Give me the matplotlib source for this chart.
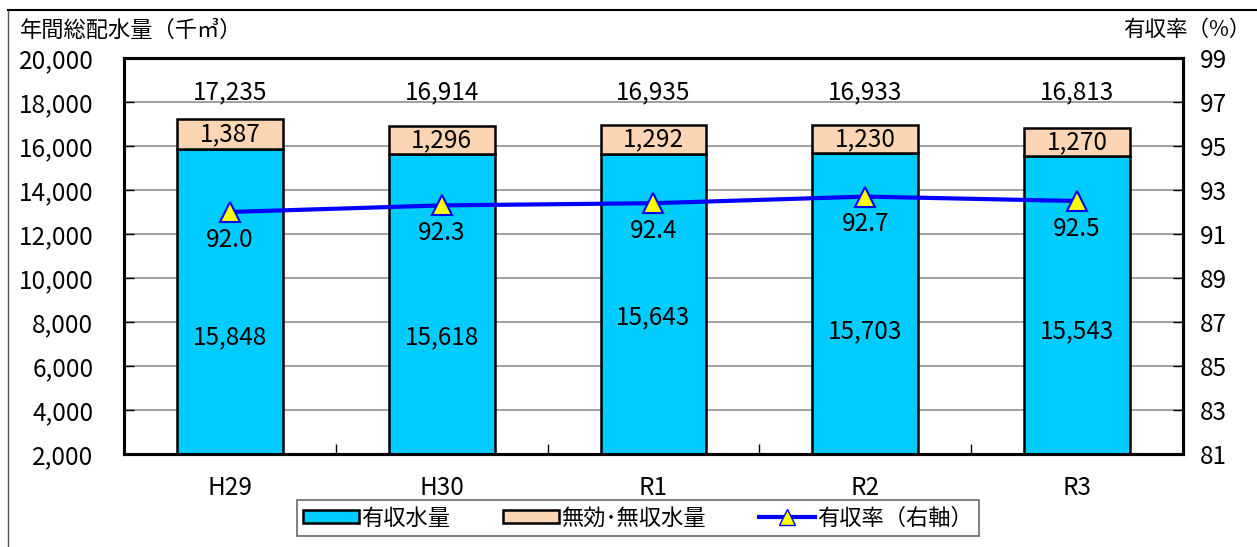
import matplotlib
matplotlib.use('Agg')
from matplotlib import pyplot as plt
from matplotlib.lines import Line2D
from matplotlib.patches import Patch

plt.rcParams['font.family'] = ['Noto Sans CJK JP', 'DejaVu Sans']

# 年度ごとの配水量(千㎥)と有収率(%)
nendo = ['H29', 'H30', 'R1', 'R2', 'R3']
yushu = [15848, 15618, 15643, 15703, 15543]
mukou = [1387, 1296, 1292, 1230, 1270]
goukei = [17235, 16914, 16935, 16933, 16813]
ritsu = [92.0, 92.3, 92.4, 92.7, 92.5]

# 有収水量ラベルの高さ(左軸の値)
yushu_label_y = [7300, 7300, 8200, 7600, 7600]

AO = '#00CCFF'
DAIDAI = '#FCD5B4'
SEN = '#0000FF'
FS = 17.5

fig = plt.figure(figsize=(12.57, 5.47), dpi=100)
ax = fig.add_axes([124/1257, 93/547, 1059/1257, 396/547])
ax2 = ax.twinx()

x = list(range(len(nendo)))
ax.bar(x, yushu, width=0.5, bottom=0, color=AO, edgecolor='black', linewidth=1.8, zorder=3)
ax.bar(x, mukou, width=0.5, bottom=yushu, color=DAIDAI, edgecolor='black', linewidth=1.8, zorder=3)

for i in x:
    ax.text(i, goukei[i] - mukou[i] / 2, f'{mukou[i]:,}', ha='center', va='center', fontsize=FS, zorder=4)
    ax.text(i, 18450, f'{goukei[i]:,}', ha='center', va='center', fontsize=FS, zorder=4)
    ax.text(i, yushu_label_y[i], f'{yushu[i]:,}', ha='center', va='center', fontsize=FS, zorder=4)

ax.set_xlim(-0.5, len(nendo) - 0.5)
ax.set_ylim(2000, 20000)
ax.set_yticks(range(2000, 20001, 2000))
ax.set_yticklabels([f'{v:,}' for v in range(2000, 20001, 2000)])
ax.grid(axis='y', color='#999999', linewidth=1.3, zorder=0)
ax.set_axisbelow(True)
ax.set_xticks(x)
ax.set_xticklabels(nendo)
ax.set_xticks([i + 0.5 for i in x[:-1]], minor=True)
ax.tick_params(axis='x', which='major', length=0, pad=15, labelsize=FS)
ax.tick_params(axis='x', which='minor', direction='in', length=7, width=1)
ax.tick_params(axis='y', direction='in', length=7, width=1, pad=22, labelsize=FS)

ax2.plot(x, ritsu, color=SEN, linewidth=3, marker='^', markersize=14,
         markerfacecolor='yellow', markeredgecolor=SEN, markeredgewidth=1.5, zorder=5)
for i in x:
    ax2.annotate(f'{ritsu[i]:.1f}', (i, ritsu[i]), xytext=(0, -20), textcoords='offset points',
                 ha='center', va='center', fontsize=FS)
ax2.set_ylim(81, 99)
ax2.set_yticks(range(81, 100, 2))
ax2.tick_params(axis='y', direction='in', length=7, width=1, pad=12, labelsize=FS)

for a in (ax, ax2):
    for s in a.spines.values():
        s.set_linewidth(2.2)

fig.text(20/1257, 1 - 30/547, '年間総配水量（千㎥）', ha='left', va='center', fontsize=16)
fig.text(1250/1257, 1 - 30/547, '有収率（%）', ha='right', va='center', fontsize=15.5)

# グラフエリアの枠
fig.add_artist(Line2D([8/1257, 8/1257], [0, 1 - 10/547], transform=fig.transFigure, color='#555555', linewidth=1))
fig.add_artist(Line2D([8/1257, 1], [1 - 10/547, 1 - 10/547], transform=fig.transFigure, color='black', linewidth=1.5))

hanrei = [
    Patch(facecolor=AO, edgecolor='black', linewidth=1.8, label='有収水量'),
    Patch(facecolor=DAIDAI, edgecolor='black', linewidth=1.8, label='無効･無収水量'),
    Line2D([], [], color=SEN, linewidth=3, marker='^', markersize=11, markerfacecolor='yellow',
           markeredgecolor=SEN, label='有収率（右軸）'),
]
leg = fig.legend(handles=hanrei, loc='center', bbox_to_anchor=(638/1257, 1 - 518/547), ncol=3,
                 fontsize=16, frameon=True, fancybox=False, edgecolor='#444444',
                 handlelength=2.5, handleheight=0.55, handletextpad=0.1, columnspacing=2.4,
                 borderpad=0.3, borderaxespad=0)
leg.get_frame().set_linewidth(1.2)

fig.savefig('out.png', dpi=100)
